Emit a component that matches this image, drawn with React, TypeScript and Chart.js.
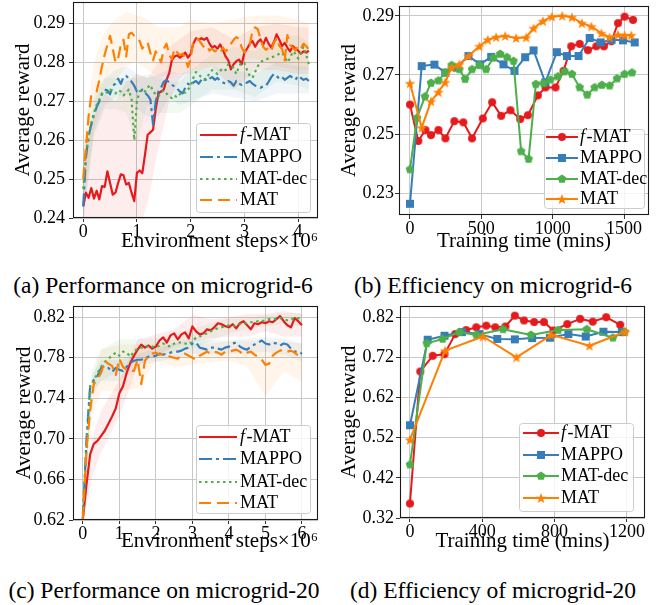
import React, { useEffect, useRef } from "react";
import { Chart, registerables } from "chart.js";

Chart.register(...registerables);

// ---------------- data: (a) performance on microgrid-6 ----------------
const aSteps = [
  0, 0.05, 0.1, 0.15, 0.2, 0.25, 0.3, 0.35, 0.4, 0.45,
  0.5, 0.55, 0.6, 0.65, 0.7, 0.75, 0.8, 0.85, 0.9, 0.95,
  1.0, 1.05, 1.1, 1.15, 1.2, 1.25, 1.3, 1.35, 1.4, 1.45,
  1.5, 1.55, 1.6, 1.65, 1.7, 1.75, 1.8, 1.85, 1.9, 1.95,
  2.0, 2.05, 2.1, 2.15, 2.2, 2.25, 2.3, 2.35, 2.4, 2.45,
  2.5, 2.55, 2.6, 2.65, 2.7, 2.75, 2.8, 2.85, 2.9, 2.95,
  3.0, 3.05, 3.1, 3.15, 3.2, 3.25, 3.3, 3.35, 3.4, 3.45,
  3.5, 3.55, 3.6, 3.65, 3.7, 3.75, 3.8, 3.85, 3.9, 3.95,
  4.0, 4.05, 4.1, 4.15, 4.2,
];
const aFmat = [
  0.2430, 0.2465, 0.2452, 0.2477, 0.2450, 0.2470, 0.2448, 0.2482, 0.2480, 0.2520,
  0.2490, 0.2460, 0.2465, 0.2490, 0.2512, 0.2510, 0.2486, 0.2490, 0.2465, 0.2443,
  0.2516, 0.2522, 0.2515, 0.2563, 0.2614, 0.2620, 0.2627, 0.2680, 0.2720, 0.2725,
  0.2730, 0.2755, 0.2772, 0.2806, 0.2815, 0.2818, 0.2812, 0.2818, 0.2825, 0.2812,
  0.2822, 0.2848, 0.2862, 0.2858, 0.2862, 0.2858, 0.2863, 0.2848, 0.2838, 0.2842,
  0.2835, 0.2846, 0.2832, 0.2815, 0.2805, 0.2782, 0.2795, 0.2803, 0.2807, 0.2795,
  0.2825, 0.2835, 0.2848, 0.2855, 0.2840, 0.2852, 0.2859, 0.2845, 0.2863, 0.2848,
  0.2838, 0.2852, 0.2872, 0.2858, 0.2842, 0.2850, 0.2838, 0.2828, 0.2842, 0.2835,
  0.2830, 0.2822, 0.2828, 0.2825, 0.2830,
];
const aMappo = [
  0.2430, 0.2555, 0.2610, 0.2640, 0.2665, 0.2685, 0.2700, 0.2720, 0.2730, 0.2728,
  0.2718, 0.2740, 0.2745, 0.2758, 0.2745, 0.2762, 0.2765, 0.2758, 0.2750, 0.2740,
  0.2725, 0.2722, 0.2730, 0.2722, 0.2715, 0.2705, 0.2640, 0.2700, 0.2725, 0.2735,
  0.2750, 0.2755, 0.2748, 0.2742, 0.2738, 0.2732, 0.2725, 0.2720, 0.2735, 0.2745,
  0.2740, 0.2748, 0.2752, 0.2745, 0.2755, 0.2760, 0.2752, 0.2758, 0.2762, 0.2755,
  0.2760, 0.2752, 0.2748, 0.2745, 0.2752, 0.2748, 0.2740, 0.2752, 0.2745, 0.2742,
  0.2745, 0.2748, 0.2752, 0.2745, 0.2740, 0.2738, 0.2735, 0.2738, 0.2740, 0.2750,
  0.2762, 0.2770, 0.2765, 0.2758, 0.2762, 0.2755, 0.2760, 0.2765, 0.2760, 0.2755,
  0.2765, 0.2760, 0.2755, 0.2758, 0.2752,
];
const aMatDec = [
  0.2475, 0.2565, 0.2610, 0.2645, 0.2670, 0.2690, 0.2705, 0.2718, 0.2725, 0.2722,
  0.2730, 0.2725, 0.2720, 0.2728, 0.2725, 0.2715, 0.2722, 0.2730, 0.2705, 0.2600,
  0.2700, 0.2725, 0.2730, 0.2725, 0.2735, 0.2742, 0.2725, 0.2718, 0.2712, 0.2722,
  0.2728, 0.2720, 0.2712, 0.2708, 0.2715, 0.2710, 0.2718, 0.2725, 0.2722, 0.2730,
  0.2740, 0.2760, 0.2775, 0.2768, 0.2762, 0.2755, 0.2760, 0.2772, 0.2780, 0.2775,
  0.2770, 0.2778, 0.2785, 0.2780, 0.2795, 0.2790, 0.2785, 0.2770, 0.2790, 0.2800,
  0.2798, 0.2780, 0.2765, 0.2760, 0.2775, 0.2790, 0.2800, 0.2805, 0.2808, 0.2810,
  0.2812, 0.2815, 0.2818, 0.2822, 0.2825, 0.2815, 0.2800, 0.2810, 0.2828, 0.2822,
  0.2810, 0.2825, 0.2840, 0.2820, 0.2795,
];
const aMat = [
  0.2500, 0.2580, 0.2660, 0.2715, 0.2720, 0.2725, 0.2755, 0.2790, 0.2820, 0.2845,
  0.2868, 0.2835, 0.2800, 0.2810, 0.2845, 0.2858, 0.2815, 0.2872, 0.2876, 0.2868,
  0.2862, 0.2855, 0.2835, 0.2848, 0.2850, 0.2825, 0.2805, 0.2828, 0.2815, 0.2800,
  0.2835, 0.2848, 0.2820, 0.2808, 0.2835, 0.2825, 0.2818, 0.2822, 0.2812, 0.2788,
  0.2810, 0.2855, 0.2862, 0.2858, 0.2848, 0.2838, 0.2842, 0.2830, 0.2835, 0.2828,
  0.2832, 0.2825, 0.2838, 0.2828, 0.2835, 0.2848, 0.2858, 0.2865, 0.2860, 0.2838,
  0.2825, 0.2832, 0.2845, 0.2880, 0.2890, 0.2885, 0.2860, 0.2840, 0.2832, 0.2838,
  0.2830, 0.2850, 0.2862, 0.2842, 0.2835, 0.2805, 0.2870, 0.2845, 0.2838, 0.2830,
  0.2842, 0.2835, 0.2848, 0.2842, 0.2832,
];
const aBandX = [0, 0.2, 0.4, 0.6, 0.8, 1.0, 1.2, 1.4, 1.6, 1.8, 2.0, 2.4, 2.8, 3.2, 3.6, 4.0, 4.2];
const aFmatHi = [0.258, 0.266, 0.272, 0.270, 0.275, 0.277, 0.276, 0.280, 0.284, 0.286, 0.288, 0.289, 0.286, 0.289, 0.290, 0.289, 0.289];
const aFmatLo = [0.235, 0.235, 0.235, 0.235, 0.235, 0.235, 0.244, 0.258, 0.270, 0.276, 0.278, 0.279, 0.273, 0.278, 0.278, 0.277, 0.277];
const aMappoHi = [0.250, 0.270, 0.276, 0.278, 0.279, 0.277, 0.276, 0.277, 0.278, 0.277, 0.278, 0.279, 0.278, 0.277, 0.280, 0.279, 0.279];
const aMappoLo = [0.238, 0.262, 0.269, 0.271, 0.272, 0.268, 0.266, 0.266, 0.271, 0.269, 0.270, 0.272, 0.271, 0.270, 0.272, 0.272, 0.272];
const aMatDecHi = [0.255, 0.272, 0.276, 0.276, 0.276, 0.276, 0.277, 0.276, 0.275, 0.275, 0.278, 0.282, 0.284, 0.283, 0.286, 0.287, 0.285];
const aMatDecLo = [0.240, 0.261, 0.268, 0.268, 0.267, 0.259, 0.269, 0.267, 0.267, 0.267, 0.269, 0.273, 0.273, 0.271, 0.275, 0.274, 0.273];
const aMatHi = [0.260, 0.280, 0.288, 0.291, 0.293, 0.292, 0.291, 0.289, 0.289, 0.289, 0.291, 0.290, 0.291, 0.292, 0.292, 0.291, 0.290];
const aMatLo = [0.243, 0.263, 0.273, 0.275, 0.279, 0.280, 0.278, 0.276, 0.277, 0.277, 0.277, 0.279, 0.280, 0.281, 0.279, 0.278, 0.278];
const aXTicks = [0, 1, 2, 3, 4];
const aYTicks = [0.24, 0.25, 0.26, 0.27, 0.28, 0.29];

// ---------------- data: (b) efficiency on microgrid-6 ----------------
const bFmatT = [0, 58, 108, 147, 199, 248, 311, 374, 435, 510, 576, 639, 704, 772, 826, 896, 950, 1020, 1076, 1130, 1189, 1247, 1306, 1359, 1411, 1458, 1504, 1563];
const bFmatR = [0.2600, 0.2477, 0.2514, 0.2497, 0.2514, 0.2486, 0.2544, 0.2540, 0.2486, 0.2553, 0.2608, 0.2562, 0.2581, 0.2551, 0.2564, 0.2631, 0.2658, 0.2658, 0.2714, 0.2797, 0.2805, 0.2784, 0.2797, 0.2797, 0.2814, 0.2875, 0.2897, 0.2886];
const bMappoT = [0, 82, 171, 248, 328, 410, 491, 569, 655, 732, 807, 866, 948, 1029, 1100, 1181, 1259, 1336, 1411, 1493, 1575];
const bMappoR = [0.2265, 0.2730, 0.2735, 0.2708, 0.2725, 0.2764, 0.2736, 0.2761, 0.2736, 0.2714, 0.2760, 0.2783, 0.2675, 0.2777, 0.2764, 0.2764, 0.2825, 0.2810, 0.2819, 0.2817, 0.2810];
const bMatDecT = [0, 49, 105, 147, 199, 246, 292, 346, 386, 435, 487, 533, 585, 632, 679, 725, 779, 831, 882, 936, 985, 1037, 1083, 1135, 1189, 1242, 1294, 1345, 1399, 1451, 1504, 1556];
const bMatDecR = [0.2381, 0.2555, 0.2627, 0.2673, 0.2681, 0.2708, 0.2733, 0.2719, 0.2686, 0.2719, 0.2733, 0.2719, 0.2758, 0.2771, 0.2760, 0.2747, 0.2442, 0.2416, 0.2669, 0.2672, 0.2684, 0.2695, 0.2712, 0.2703, 0.2658, 0.2633, 0.2658, 0.2666, 0.2664, 0.2688, 0.2703, 0.2708];
const bMatT = [0, 82, 147, 199, 246, 292, 346, 410, 487, 545, 604, 667, 744, 814, 866, 931, 994, 1067, 1135, 1205, 1271, 1341, 1399, 1458, 1504, 1551];
const bMatR = [0.2672, 0.2522, 0.2611, 0.2642, 0.2675, 0.2725, 0.2736, 0.2764, 0.2797, 0.2819, 0.2828, 0.2832, 0.2825, 0.2827, 0.2858, 0.2882, 0.2897, 0.2900, 0.2895, 0.2875, 0.2864, 0.2841, 0.2827, 0.2836, 0.2834, 0.2834];
const bXTicks = [0, 500, 1000, 1500];
const bYTicks = [0.23, 0.25, 0.27, 0.29];

// ---------------- data: (c) performance on microgrid-20 ----------------
const cSteps = [
  0, 0.1, 0.2, 0.3, 0.4, 0.5, 0.6, 0.7, 0.8, 0.9,
  1.0, 1.1, 1.2, 1.3, 1.4, 1.5, 1.6, 1.7, 1.8, 1.9,
  2.0, 2.1, 2.2, 2.3, 2.4, 2.5, 2.6, 2.7, 2.8, 2.9,
  3.0, 3.1, 3.2, 3.3, 3.4, 3.5, 3.6, 3.7, 3.8, 3.9,
  4.0, 4.1, 4.2, 4.3, 4.4, 4.5, 4.6, 4.7, 4.8, 4.9,
  5.0, 5.1, 5.2, 5.3, 5.4, 5.5, 5.6, 5.7, 5.8, 5.9,
  6.0,
];
const cFmat = [
  0.621, 0.655, 0.685, 0.695, 0.698, 0.703, 0.708, 0.715, 0.722, 0.730,
  0.745, 0.752, 0.765, 0.775, 0.782, 0.788, 0.793, 0.790, 0.792, 0.789,
  0.791, 0.797, 0.800, 0.795, 0.802, 0.804, 0.798, 0.803, 0.805, 0.799,
  0.811, 0.806, 0.803, 0.804, 0.808, 0.807, 0.810, 0.814, 0.813, 0.811,
  0.810, 0.813, 0.809, 0.814, 0.816, 0.812, 0.808, 0.814, 0.813, 0.815,
  0.814, 0.816, 0.815, 0.818, 0.821, 0.816, 0.812, 0.810, 0.819, 0.816,
  0.812,
];
const cMappo = [
  0.622, 0.700, 0.752, 0.758, 0.762, 0.770, 0.772, 0.770, 0.766, 0.770,
  0.768, 0.767, 0.771, 0.775, 0.777, 0.778, 0.778, 0.780, 0.781, 0.781,
  0.782, 0.784, 0.783, 0.784, 0.785, 0.786, 0.786, 0.787, 0.789, 0.790,
  0.794, 0.795, 0.790, 0.789, 0.788, 0.790, 0.790, 0.789, 0.788, 0.790,
  0.791, 0.794, 0.795, 0.791, 0.789, 0.788, 0.791, 0.793, 0.795, 0.797,
  0.794, 0.793, 0.795, 0.794, 0.792, 0.794, 0.793, 0.789, 0.786, 0.786,
  0.784,
];
const cMatDec = [
  0.626, 0.690, 0.752, 0.757, 0.765, 0.771, 0.776, 0.779, 0.782, 0.785,
  0.782, 0.786, 0.785, 0.781, 0.786, 0.789, 0.790, 0.790, 0.792, 0.791,
  0.790, 0.792, 0.794, 0.792, 0.791, 0.794, 0.795, 0.795, 0.794, 0.793,
  0.796, 0.800, 0.801, 0.803, 0.804, 0.806, 0.808, 0.809, 0.810, 0.811,
  0.812, 0.811, 0.812, 0.813, 0.814, 0.814, 0.815, 0.815, 0.816, 0.816,
  0.817, 0.818, 0.818, 0.818, 0.819, 0.818, 0.817, 0.818, 0.819, 0.819,
  0.818,
];
const cMat = [
  0.621, 0.690, 0.728, 0.754, 0.759, 0.765, 0.777, 0.774, 0.772, 0.763,
  0.779, 0.771, 0.768, 0.767, 0.767, 0.778, 0.754, 0.777, 0.782, 0.784,
  0.785, 0.783, 0.784, 0.782, 0.781, 0.780, 0.779, 0.783, 0.784, 0.782,
  0.780, 0.778, 0.782, 0.784, 0.786, 0.784, 0.786, 0.785, 0.783, 0.786,
  0.786, 0.787, 0.788, 0.786, 0.783, 0.785, 0.786, 0.783, 0.781, 0.778,
  0.773, 0.774, 0.782, 0.785, 0.787, 0.788, 0.786, 0.787, 0.785, 0.782,
  0.778,
];
const cBandX = [0, 0.25, 0.5, 1, 1.5, 2, 2.5, 3, 3.5, 4, 4.5, 5, 5.5, 6];
const cFmatHi = [0.630, 0.700, 0.728, 0.758, 0.798, 0.803, 0.808, 0.822, 0.818, 0.820, 0.823, 0.823, 0.826, 0.823];
const cFmatLo = [0.615, 0.662, 0.687, 0.722, 0.772, 0.782, 0.791, 0.796, 0.799, 0.801, 0.801, 0.806, 0.801, 0.801];
const cMappoHi = [0.640, 0.763, 0.778, 0.778, 0.784, 0.789, 0.794, 0.799, 0.797, 0.797, 0.799, 0.800, 0.799, 0.794];
const cMappoLo = [0.615, 0.747, 0.757, 0.757, 0.771, 0.776, 0.779, 0.784, 0.783, 0.784, 0.784, 0.786, 0.783, 0.776];
const cMatDecHi = [0.640, 0.768, 0.788, 0.798, 0.798, 0.799, 0.804, 0.809, 0.814, 0.819, 0.819, 0.822, 0.824, 0.824];
const cMatDecLo = [0.615, 0.742, 0.757, 0.767, 0.777, 0.781, 0.786, 0.789, 0.796, 0.804, 0.808, 0.811, 0.813, 0.811];
const cMatHi = [0.640, 0.758, 0.788, 0.793, 0.793, 0.794, 0.794, 0.794, 0.794, 0.796, 0.796, 0.797, 0.796, 0.794];
const cMatLo = [0.615, 0.722, 0.747, 0.747, 0.750, 0.776, 0.771, 0.773, 0.776, 0.777, 0.771, 0.742, 0.766, 0.756];
const cXTicks = [0, 1, 2, 3, 4, 5, 6];
const cYTicks = [0.62, 0.66, 0.70, 0.74, 0.78, 0.82];

// ---------------- data: (d) efficiency of microgrid-20 ----------------
const dFmatT = [0, 57, 126, 191, 250, 311, 367, 422, 472, 528, 580, 631, 687, 741, 793, 870, 941, 1011, 1085, 1163];
const dFmatR = [0.356, 0.685, 0.724, 0.728, 0.778, 0.788, 0.795, 0.799, 0.795, 0.797, 0.824, 0.812, 0.808, 0.808, 0.787, 0.803, 0.816, 0.809, 0.820, 0.801];
const dMappoT = [0, 98, 191, 287, 385, 483, 580, 676, 774, 876, 972, 1070, 1172];
const dMappoR = [0.551, 0.764, 0.774, 0.783, 0.778, 0.766, 0.765, 0.768, 0.769, 0.778, 0.772, 0.784, 0.783];
const dMatDecT = [0, 93, 181, 274, 367, 515, 669, 820, 978, 1122, 1187];
const dMatDecR = [0.453, 0.755, 0.766, 0.783, 0.776, 0.790, 0.776, 0.788, 0.790, 0.769, 0.784];
const dMatT = [0, 194, 404, 589, 783, 993, 1191];
const dMatR = [0.515, 0.737, 0.772, 0.720, 0.776, 0.749, 0.784];
const dXTicks = [0, 400, 800, 1200];
const dYTicks = [0.32, 0.42, 0.52, 0.62, 0.72, 0.82];

const seriesNames = ["f-MAT", "MAPPO", "MAT-dec", "MAT"];
const captions = [
  "(a) Performance on microgrid-6",
  "(b) Efficiency on microgrid-6",
  "(c) Performance on microgrid-20",
  "(d) Efficiency of microgrid-20",
];

// ---------------- styles ----------------
const COLORS = ["#e41a1c", "#377eb8", "#4daf4a", "#ff7f00"];
const BAND_COLORS = ["rgba(228,26,28,0.08)", "rgba(55,126,184,0.08)", "rgba(77,175,74,0.08)", "rgba(255,127,0,0.08)"];
const DASHES = [[], [13, 4, 3, 4], [2.5, 3.5], [12, 6]];
const MARKERS = ["circle", "square", "pentagon", "star"];
const FONT = '"Liberation Serif", "Times New Roman", serif';

type Series = { x: number[]; y: number[] };
type Panel = {
  left: number; top: number; W: number; H: number;
  area: { left: number; right: number; top: number; bottom: number };
  xMin: number; xMax: number; yMin: number; yMax: number;
  xTicks: number[]; yTicks: number[];
  xTitle: string; xAlign: "center" | "end";
  yTitlePad: number; yTickPad: number;
  series: Series[];
  bandX?: number[]; bands?: { hi: number[]; lo: number[] }[];
  markers: boolean; lineWidth: number;
  legend: { box: number[]; rows: number[]; h0: number; h1: number; tx: number };
};

const PANELS: Panel[] = [
  {
    left: 0, top: 0, W: 331, H: 262,
    area: { left: 73, right: 318, top: 2, bottom: 218 },
    xMin: -0.19, xMax: 4.37, yMin: 0.24, yMax: 0.2955,
    xTicks: aXTicks, yTicks: aYTicks,
    xTitle: "Environment steps×10⁶", xAlign: "end",
    yTitlePad: 11, yTickPad: 4,
    series: [
      { x: aSteps, y: aFmat }, { x: aSteps, y: aMappo }, { x: aSteps, y: aMatDec }, { x: aSteps, y: aMat },
    ],
    bandX: aBandX,
    bands: [
      { hi: aFmatHi, lo: aFmatLo }, { hi: aMappoHi, lo: aMappoLo }, { hi: aMatDecHi, lo: aMatDecLo }, { hi: aMatHi, lo: aMatLo },
    ],
    markers: false, lineWidth: 2.2,
    legend: { box: [196, 123, 114, 89], rows: [135, 157, 179, 200], h0: 200, h1: 237, tx: 240 },
  },
  {
    left: 331, top: 0, W: 331, H: 262,
    area: { left: 68, right: 318, top: 2, bottom: 215 },
    xMin: -77, xMax: 1675, yMin: 0.2227, yMax: 0.2933,
    xTicks: bXTicks, yTicks: bYTicks,
    xTitle: "Training time (mins)", xAlign: "center",
    yTitlePad: 6, yTickPad: 1,
    series: [
      { x: bFmatT, y: bFmatR }, { x: bMappoT, y: bMappoR }, { x: bMatDecT, y: bMatDecR }, { x: bMatT, y: bMatR },
    ],
    markers: true, lineWidth: 2,
    legend: { box: [213, 129, 100, 79], rows: [137, 158, 179, 199], h0: 215, h1: 247, tx: 249 },
  },
  {
    left: 0, top: 300, W: 331, H: 262,
    area: { left: 73, right: 318, top: 6, bottom: 220 },
    xMin: -0.27, xMax: 6.44, yMin: 0.62, yMax: 0.831,
    xTicks: cXTicks, yTicks: cYTicks,
    xTitle: "Environment steps×10⁶", xAlign: "end",
    yTitlePad: 11.5, yTickPad: 4,
    series: [
      { x: cSteps, y: cFmat }, { x: cSteps, y: cMappo }, { x: cSteps, y: cMatDec }, { x: cSteps, y: cMat },
    ],
    bandX: cBandX,
    bands: [
      { hi: cFmatHi, lo: cFmatLo }, { hi: cMappoHi, lo: cMappoLo }, { hi: cMatDecHi, lo: cMatDecLo }, { hi: cMatHi, lo: cMatLo },
    ],
    markers: false, lineWidth: 2.2,
    legend: { box: [196, 125, 114, 88], rows: [137, 159, 182, 203], h0: 199, h1: 237, tx: 240 },
  },
  {
    left: 331, top: 300, W: 331, H: 262,
    area: { left: 69, right: 314, top: 6, bottom: 218 },
    xMin: -55, xMax: 1300, yMin: 0.32, yMax: 0.848,
    xTicks: dXTicks, yTicks: dYTicks,
    xTitle: "Training time (mins)", xAlign: "center",
    yTitlePad: 6, yTickPad: 2,
    series: [
      { x: dFmatT, y: dFmatR }, { x: dMappoT, y: dMappoR }, { x: dMatDecT, y: dMatDecR }, { x: dMatT, y: dMatR },
    ],
    markers: true, lineWidth: 2,
    legend: { box: [188, 123, 114, 88], rows: [133, 155, 176, 198], h0: 192, h1: 228, tx: 230 },
  },
];

function makeMarker(kind: string, color: string): HTMLCanvasElement {
  const c = document.createElement("canvas");
  c.width = 12; c.height = 12;
  const g = c.getContext("2d")!;
  g.fillStyle = color;
  const cx = 6, cy = 6;
  g.beginPath();
  if (kind === "circle") {
    g.arc(cx, cy, 4, 0, Math.PI * 2);
  } else if (kind === "square") {
    g.rect(cx - 4, cy - 4, 8, 8);
  } else if (kind === "pentagon") {
    for (let k = 0; k < 5; k++) {
      const a = -Math.PI / 2 + (k * 2 * Math.PI) / 5;
      const px = cx + 4.6 * Math.cos(a), py = cy + 4.6 * Math.sin(a);
      if (k === 0) g.moveTo(px, py); else g.lineTo(px, py);
    }
  } else {
    for (let k = 0; k < 10; k++) {
      const a = -Math.PI / 2 + (k * Math.PI) / 5;
      const r = k % 2 === 0 ? 5.6 : 2.3;
      const px = cx + r * Math.cos(a), py = cy + 0.5 + r * Math.sin(a);
      if (k === 0) g.moveTo(px, py); else g.lineTo(px, py);
    }
  }
  g.closePath();
  g.fill();
  return c;
}

function pairs(xs: number[], ys: number[]) {
  return xs.map((x, i) => ({ x, y: ys[i] }));
}

function buildConfig(p: Panel, imgs: HTMLCanvasElement[]): any {
  const datasets: any[] = [];
  if (p.bands && p.bandX) {
    p.bands.forEach((b, i) => {
      datasets.push({
        data: pairs(p.bandX!, b.hi), borderColor: "rgba(0,0,0,0)", borderWidth: 1,
        pointRadius: 0, fill: false, order: 20,
      });
      datasets.push({
        data: pairs(p.bandX!, b.lo), borderColor: "rgba(0,0,0,0)", borderWidth: 1,
        pointRadius: 0, fill: "-1", backgroundColor: BAND_COLORS[i], order: 20,
      });
    });
  }
  p.series.forEach((s, i) => {
    datasets.push({
      data: pairs(s.x, s.y),
      borderColor: COLORS[i],
      backgroundColor: COLORS[i],
      borderWidth: p.lineWidth,
      borderDash: p.markers ? [] : DASHES[i],
      borderJoinStyle: "round",
      pointRadius: p.markers ? 4 : 0,
      pointStyle: p.markers ? imgs[i] : "circle",
      fill: false,
      tension: 0,
      order: 4 - i,
    });
  });

  const framePlugin = {
    id: "frame",
    afterDatasetsDraw(chart: any) {
      const { ctx, chartArea: a } = chart;
      ctx.save();
      ctx.setLineDash([]);
      ctx.strokeStyle = "#1a1a1a";
      ctx.lineWidth = 1.1;
      const l = Math.round(a.left) + 0.5, t = Math.round(a.top) + 0.5;
      const r = Math.round(a.right) - 0.5, b = Math.round(a.bottom) - 0.5;
      ctx.strokeRect(l, t, r - l, b - t);
      ctx.restore();
    },
  };

  const legendPlugin = {
    id: "boxLegend",
    afterDraw(chart: any) {
      const ctx = chart.ctx;
      const L = p.legend;
      ctx.save();
      const [bx, by, bw, bh] = L.box;
      ctx.beginPath();
      if (ctx.roundRect) ctx.roundRect(bx + 0.5, by + 0.5, bw, bh, 3);
      else ctx.rect(bx + 0.5, by + 0.5, bw, bh);
      ctx.fillStyle = "rgba(255,255,255,0.8)";
      ctx.fill();
      ctx.strokeStyle = "#cccccc";
      ctx.lineWidth = 1;
      ctx.stroke();
      seriesNames.forEach((name, i) => {
        const y = L.rows[i];
        ctx.setLineDash(p.markers ? [] : DASHES[i]);
        ctx.strokeStyle = COLORS[i];
        ctx.lineWidth = p.lineWidth;
        ctx.beginPath();
        ctx.moveTo(L.h0, y);
        ctx.lineTo(L.h1, y);
        ctx.stroke();
        ctx.setLineDash([]);
        if (p.markers) {
          const im = imgs[i];
          ctx.drawImage(im, Math.round((L.h0 + L.h1) / 2 - im.width / 2), Math.round(y - im.height / 2));
        }
        ctx.fillStyle = "#000000";
        ctx.textBaseline = "middle";
        ctx.textAlign = "left";
        let x = L.tx;
        let rest = name;
        if (name.startsWith("f-")) {
          ctx.font = `italic 18px ${FONT}`;
          ctx.fillText("f", x, y);
          x += ctx.measureText("f").width + 1.5;
          rest = name.slice(1);
        }
        ctx.font = `18px ${FONT}`;
        ctx.fillText(rest, x, y);
      });
      ctx.restore();
    },
  };

  const tickFont = { family: FONT, size: 18 };
  const titleFont = { family: FONT, size: 21 };

  return {
    type: "line",
    data: { datasets },
    plugins: [framePlugin, legendPlugin],
    options: {
      animation: false,
      responsive: false,
      maintainAspectRatio: false,
      events: [],
      layout: { padding: { left: 0, top: p.area.top, right: p.W - p.area.right, bottom: 0 } },
      plugins: { legend: { display: false }, tooltip: { enabled: false } },
      scales: {
        x: {
          type: "linear",
          min: p.xMin,
          max: p.xMax,
          afterBuildTicks: (sc: any) => { sc.ticks = p.xTicks.map((v) => ({ value: v })); },
          afterFit: (sc: any) => {
            sc.height = p.H - p.area.bottom;
            sc.paddingLeft = 0; sc.paddingRight = 0; sc.paddingTop = 0; sc.paddingBottom = 0;
          },
          ticks: {
            autoSkip: false, maxRotation: 0, minRotation: 0, padding: -1,
            color: "#000000", font: tickFont,
            callback: (v: any) => String(v),
          },
          grid: { color: "#c8c8c8", lineWidth: 1, tickLength: 4, tickColor: "#333333", drawTicks: true },
          border: { display: false },
          title: {
            display: true, text: p.xTitle, align: p.xAlign, color: "#000000",
            font: titleFont, padding: { top: 0, bottom: 8 },
          },
        },
        y: {
          type: "linear",
          min: p.yMin,
          max: p.yMax,
          afterBuildTicks: (sc: any) => { sc.ticks = p.yTicks.map((v) => ({ value: v })); },
          afterFit: (sc: any) => {
            sc.width = p.area.left;
            sc.paddingLeft = 0; sc.paddingRight = 0; sc.paddingTop = 0; sc.paddingBottom = 0;
          },
          ticks: {
            autoSkip: false, padding: p.yTickPad, color: "#000000", font: tickFont,
            callback: (v: any) => Number(v).toFixed(2),
          },
          grid: { color: "#c8c8c8", lineWidth: 1, tickLength: 4, tickColor: "#333333", drawTicks: true },
          border: { display: false },
          title: {
            display: true, text: "Average reward", color: "#000000",
            font: titleFont, padding: { top: p.yTitlePad, bottom: 0 },
          },
        },
      },
    },
  };
}

export default function App() {
  const r0 = useRef<HTMLCanvasElement>(null);
  const r1 = useRef<HTMLCanvasElement>(null);
  const r2 = useRef<HTMLCanvasElement>(null);
  const r3 = useRef<HTMLCanvasElement>(null);
  const refs = [r0, r1, r2, r3];

  useEffect(() => {
    const imgs = MARKERS.map((m, i) => makeMarker(m, COLORS[i]));
    const charts = PANELS.map((p, i) => new Chart(refs[i].current as HTMLCanvasElement, buildConfig(p, imgs)));
    return () => charts.forEach((c) => c.destroy());
  }, []);

  const capStyle = (left: number, top: number, width: number): React.CSSProperties => ({
    position: "absolute", left, top, width, textAlign: "center",
    fontFamily: FONT, fontSize: "23.5px", lineHeight: "28px", color: "#000", whiteSpace: "nowrap",
  });

  return (
    <div style={{ position: "absolute", left: 0, top: 0, width: 662, height: 605, background: "#ffffff", overflow: "hidden" }}>
      {PANELS.map((p, i) => (
        <canvas
          key={i}
          ref={refs[i]}
          width={p.W}
          height={p.H}
          style={{ position: "absolute", left: p.left, top: p.top, width: p.W, height: p.H, display: "block" }}
        />
      ))}
      <div style={capStyle(0, 271, 326)}>{captions[0]}</div>
      <div style={capStyle(331, 271, 324)}>{captions[1]}</div>
      <div style={capStyle(0, 576, 328)}>{captions[2]}</div>
      <div style={capStyle(331, 576, 324)}>{captions[3]}</div>
    </div>
  );
}
